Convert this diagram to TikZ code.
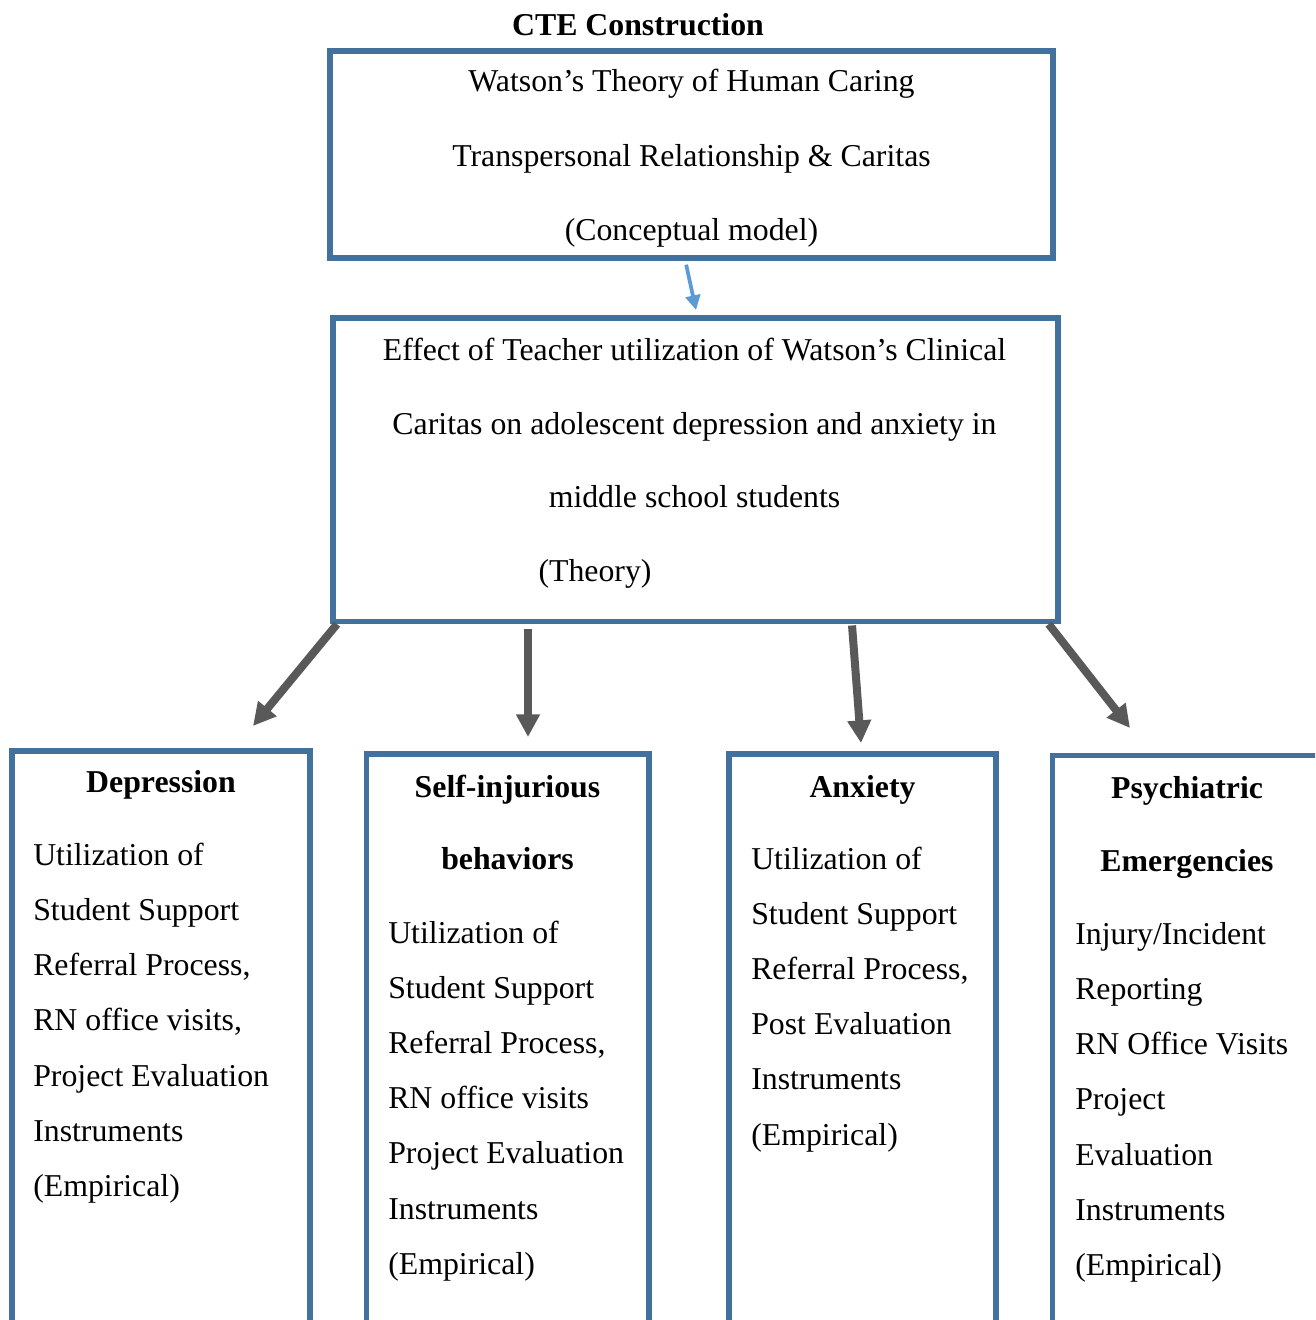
\documentclass[tikz,border=0pt]{standalone}
\usepackage{fontspec}
\setmainfont{Liberation Serif}
\usepackage{tikz}
\usetikzlibrary{arrows.meta,positioning}
\definecolor{frameblue}{RGB}{65,113,156}
\definecolor{linkblue}{RGB}{91,155,213}
\definecolor{arrowgray}{RGB}{89,89,89}

\begin{document}
\begin{tikzpicture}[x=0.75pt,y=-0.75pt,
    every node/.style={font=\fontsize{23.85}{28}\selectfont,inner sep=0pt},
    frame/.style={draw=frameblue,line width=4pt,outer sep=0pt,anchor=north west},
    head/.style={font=\fontsize{23.85}{28}\selectfont\bfseries,anchor=base},
    mid/.style={anchor=base},
    body/.style={anchor=base west},
    fat/.style={arrowgray,line width=6pt,-{Triangle[length=17pt,width=17pt]}},
    slim/.style={linkblue,line width=2.8pt,-{Triangle[length=11pt,width=11pt]}}]
  \useasboundingbox (0,0) rectangle (1315,1320);
  \clip (0,0) rectangle (1315,1320);

  \node[head] (title) at (638,36) {CTE Construction};

  % conceptual model
  \node[frame,minimum width=542.25pt,minimum height=155.25pt] (model) at (330,51) {};
  \foreach \y/\t [count=\k] in {92/{Watson's Theory of Human Caring},166/{Transpersonal Relationship \& Caritas},240/{(Conceptual model)}}
    \node[mid] (model\k) at (691.5,\y) {\t};

  % theory
  \node[frame,minimum width=543.75pt,minimum height=227.6pt] (theory) at (333,318) {};
  \foreach \y/\t [count=\k] in {360/{Effect of Teacher utilization of Watson's Clinical},434/{Caritas on adolescent depression and anxiety in},507/{middle school students}}
    \node[mid] (theory\k) at (694.5,\y) {\t};
  \node[mid] (theory4) at (595,581) {(Theory)};

  % empirical boxes
  \node[frame,minimum width=223.5pt,minimum height=441.75pt] (dep) at (12,751) {};
  \node[frame,minimum width=211.9pt,minimum height=439.5pt] (self) at (366.5,754) {};
  \node[frame,minimum width=200.25pt,minimum height=439.5pt] (anx) at (729,754) {};
  \node[frame,minimum width=202.1pt,minimum height=438.75pt] (psy) at (1052.5,755.5) {};

  \node[head] (depT) at (161,792) {Depression};
  \node[head] (selfT1) at (507.5,797) {Self-injurious};
  \node[head] (selfT2) at (507.5,869) {behaviors};
  \node[head] (anxT) at (862.5,797) {Anxiety};
  \node[head] (psyT1) at (1187,798) {Psychiatric};
  \node[head] (psyT2) at (1187,871) {Emergencies};

  \foreach \t [count=\k from 0] in {Utilization of,Student Support,{Referral Process,},{RN office visits,},Project Evaluation,Instruments,(Empirical)}
    \node[body] (dep\k) at (33,865+55.3*\k) {\t};
  \foreach \t [count=\k from 0] in {Utilization of,Student Support,{Referral Process,},RN office visits,Project Evaluation,Instruments,(Empirical)}
    \node[body] (self\k) at (388,943+55.2*\k) {\t};
  \foreach \t [count=\k from 0] in {Utilization of,Student Support,{Referral Process,},Post Evaluation,Instruments,(Empirical)}
    \node[body] (anx\k) at (751,869+55.2*\k) {\t};
  \foreach \t [count=\k from 0] in {Injury/Incident,Reporting,RN Office Visits,Project,Evaluation,Instruments,(Empirical)}
    \node[body] (psy\k) at (1075,944+55.3*\k) {\t};

  % arrows
  \coordinate (tip0) at (696,310);
  \coordinate (tip1) at (253,726);
  \coordinate (tip2) at (528,737);
  \coordinate (tip3) at (861,743);
  \coordinate (tip4) at (1130,728);
  \draw[slim] ([xshift=-4pt,yshift=-5pt]model.south) -- (tip0);
  \draw[fat] ([xshift=3pt,yshift=-2pt]theory.south west) -- (tip1);
  \draw[fat,shorten <=6pt] (theory.south -| tip2) -- (tip2);
  \draw[fat] ([xshift=117.4pt,yshift=-3pt]theory.south) -- (tip3);
  \draw[fat] ([xshift=-7pt,yshift=-2pt]theory.south east) -- (tip4);
\end{tikzpicture}
\end{document}
